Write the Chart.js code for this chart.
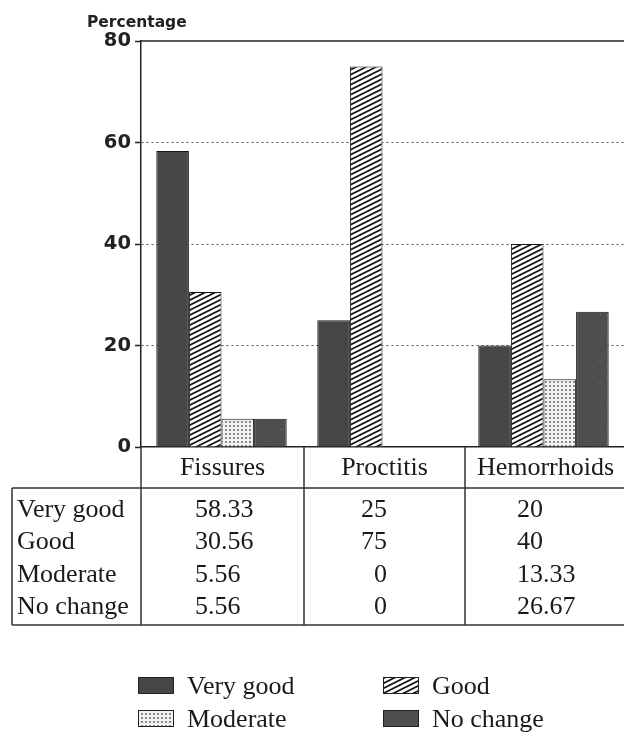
<!DOCTYPE html>
<html>
<head>
<meta charset="utf-8">
<script src="https://cdn.jsdelivr.net/npm/chart.js@4.4.1/dist/chart.umd.min.js"></script>
<style>
  body { margin: 0; background: #fff; }
  #wrap { width: 624px; height: 734px; }
</style>
</head>
<body>
<div id="wrap"><canvas id="chart"></canvas></div>
<script>
const categories = ['Fissures', 'Proctitis', 'Hemorrhoids'];
const seriesNames = ['Very good', 'Good', 'Moderate', 'No change'];
const veryGood = [58.33, 25, 20];
const good = [30.56, 75, 40];
const moderate = [5.56, 0, 13.33];
const noChange = [5.56, 0, 26.67];
const yTicks = [0, 20, 40, 60, 80];

const serif = '26px "Liberation Serif", "Times New Roman", serif';
const boldSans = 'bold 15.5px "DejaVu Sans", sans-serif';

// fill patterns
function tile(w, h, paint) {
    const c = document.createElement('canvas');
    c.width = w; c.height = h;
    const x = c.getContext('2d');
    paint(x);
    return x.createPattern(c, 'repeat');
}
const hatch = tile(10, 5, x => {
    x.fillStyle = '#fff';
    x.fillRect(0, 0, 10, 5);
    x.strokeStyle = '#151515';
    x.lineWidth = 1.7;
    for (let k = -1; k <= 1; k++) {
        x.beginPath();
        x.moveTo(-10, 10 + 5 * k);
        x.lineTo(20, -5 + 5 * k);
        x.stroke();
    }
});
const dots = tile(4, 4, x => {
    x.fillStyle = '#f1f1f1';
    x.fillRect(0, 0, 4, 4);
    x.fillStyle = '#8c8c8c';
    x.fillRect(1, 1, 2, 2);
});
const speckle = tile(29, 23, x => {
    x.fillStyle = '#4e4e4e';
    x.fillRect(0, 0, 29, 23);
    x.fillStyle = '#6c6c6c';
    x.fillRect(6, 4, 1, 1);
    x.fillRect(19, 15, 2, 1);
});
const fills = ['#464646', hatch, dots, speckle];

const seriesValues = [veryGood, good, moderate, noChange];

// table below the axis + legend at the bottom
const tablePlugin = {
    id: 'tablePlugin',
    afterDraw(chart) {
        const {ctx, chartArea} = chart;
        const xs = chart.scales.x;
        const half = (xs.getPixelForValue(1) - xs.getPixelForValue(0)) / 2;
        const top = chartArea.bottom;
        const headBottom = 488, tableBottom = 625, tableLeft = 12;
        const right = chartArea.right;

        ctx.save();
        // top frame line of the plot
        ctx.strokeStyle = '#222';
        ctx.lineWidth = 1.5;
        ctx.beginPath();
        ctx.moveTo(chartArea.left, chartArea.top);
        ctx.lineTo(right, chartArea.top);
        ctx.stroke();

        // title
        ctx.fillStyle = '#222';
        ctx.font = boldSans;
        ctx.textBaseline = 'alphabetic';
        ctx.textAlign = 'left';
        ctx.fillText('Percentage', 87, 27);

        // table lines
        ctx.strokeStyle = '#333';
        ctx.lineWidth = 1.5;
        ctx.beginPath();
        ctx.moveTo(chartArea.left, top); ctx.lineTo(chartArea.left, tableBottom);
        ctx.moveTo(tableLeft, headBottom); ctx.lineTo(right, headBottom);
        ctx.moveTo(tableLeft, tableBottom); ctx.lineTo(right, tableBottom);
        ctx.moveTo(tableLeft, headBottom); ctx.lineTo(tableLeft, tableBottom);
        for (let i = 1; i < categories.length; i++) {
            const bx = xs.getPixelForValue(i) - half + 2;
            ctx.moveTo(bx, top); ctx.lineTo(bx, tableBottom);
        }
        ctx.stroke();

        // header + values
        ctx.font = serif;
        ctx.fillStyle = '#1a1a1a';
        ctx.textBaseline = 'middle';
        const rowY = [510, 542, 575, 607];
        const colAlign = ['left', 'right', 'left'];
        const colOffset = [54, 83, 52];
        categories.forEach((cat, i) => {
            const cx = xs.getPixelForValue(i) + (i === 0 ? 1 : 2);
            ctx.textAlign = 'center';
            ctx.fillText(cat, cx, 468);
            const colLeft = xs.getPixelForValue(i) - half + (i === 0 ? 0 : 2);
            ctx.textAlign = colAlign[i];
            seriesValues.forEach((vals, r) => {
                ctx.fillText(String(vals[i]), colLeft + colOffset[i], rowY[r]);
            });
        });
        ctx.textAlign = 'left';
        seriesNames.forEach((name, r) => ctx.fillText(name, 17, rowY[r]));

        // legend
        const legX = [138, 383], legBase = [694, 727];
        ctx.textBaseline = 'alphabetic';
        seriesNames.forEach((name, i) => {
            const lx = legX[i % 2], ly = legBase[Math.floor(i / 2)];
            ctx.fillStyle = fills[i];
            ctx.fillRect(lx, ly - 17, 36, 17);
            ctx.strokeStyle = '#222';
            ctx.lineWidth = 1;
            ctx.strokeRect(lx + 0.5, ly - 16.5, 35, 16);
            ctx.fillStyle = '#1a1a1a';
            ctx.fillText(name, lx + 49, ly);
        });
        ctx.restore();
    }
};

const config = {
    type: 'bar',
    data: {
        labels: categories,
        datasets: seriesNames.map((name, i) => ({
            label: name,
            data: seriesValues[i],
            backgroundColor: fills[i],
            borderColor: '#151515',
            borderWidth: 1,
            barPercentage: 1,
            categoryPercentage: 0.81
        }))
    },
    options: {
        responsive: true,
        maintainAspectRatio: false,
        animation: false,
        layout: {
            padding: {left: 0, right: 0, top: 41, bottom: 287}
        },
        plugins: {
            legend: {display: false},
            tooltip: {enabled: false}
        },
        scales: {
            x: {
                grid: {display: false},
                ticks: {display: false},
                afterFit: axis => {
                    axis.height = 0;
                },
                border: {color: '#222', width: 1.5}
            },
            y: {
                min: 0,
                max: 80,
                afterBuildTicks: axis => {
                    axis.ticks = yTicks.map(v => ({value: v}));
                },
                afterFit: axis => {
                    axis.width = 141;
                },
                ticks: {
                    color: '#222',
                    padding: 4,
                    font: {family: '"DejaVu Sans", sans-serif', weight: 'bold', size: 19.5}
                },
                grid: {
                    color: c => (c.tick && (c.tick.value === 0 || c.tick.value === 80)) ? 'rgba(0,0,0,0)' : '#555',
                    lineWidth: 1,
                    tickColor: '#222',
                    tickLength: 6,
                    tickWidth: 1.5
                },
                border: {color: '#222', width: 1.5, dash: [2, 3]}
            }
        }
    },
    plugins: [tablePlugin]
};

const chart = new Chart(document.getElementById('chart'), config);
</script>
</body>
</html>
